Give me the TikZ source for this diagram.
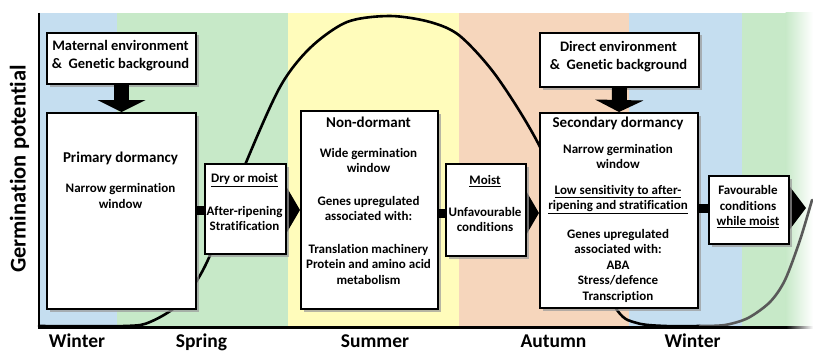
\documentclass[tikz,border=0pt]{standalone}
\usepackage{fontspec}
\setmainfont[Ligatures=NoCommon]{Carlito}
\usetikzlibrary{arrows.meta,shadows}
\definecolor{cblue}{RGB}{197,222,240}
\definecolor{cgreen}{RGB}{199,233,200}
\definecolor{cyellow}{RGB}{255,252,187}
\definecolor{corange}{RGB}{246,214,188}
\tikzset{
  box/.style={draw, line width=2pt, fill=white, inner sep=0pt, anchor=north west,
    drop shadow={shadow xshift=2.5pt, shadow yshift=-2.5pt, fill=black!40, opacity=0.7}},
  hd/.style={font=\fontsize{15}{18}\selectfont\bfseries, align=center, inner sep=0pt},
  hdb/.style={font=\fontsize{14.5}{18}\selectfont\bfseries, align=center, inner sep=0pt},
  tx/.style={font=\fontsize{13}{15.5}\selectfont\bfseries, align=center, inner sep=0pt},
  season/.style={font=\fontsize{19.5}{20}\selectfont\bfseries, anchor=base, inner sep=0pt},
  fatv/.style={line width=15pt, -{Triangle[width=48pt,length=12pt]}},
  fath/.style={line width=9pt, -{Triangle[width=54pt,length=16pt]}},
  faths/.style={line width=9pt, -{Triangle[width=44pt,length=17pt]}},
  curve/.style={line width=2.6pt, line cap=round, line join=round}
}
\begin{document}
\begin{tikzpicture}[x=1pt,y=-1pt]
\useasboundingbox (0,0) rectangle (813,353);
% season bands
\fill[cblue] (39,13) rectangle (117,326);
\fill[cgreen] (117,13) rectangle (288,326);
\fill[cyellow] (288,13) rectangle (459,326);
\fill[corange] (459,13) rectangle (629,326);
\fill[cblue] (629,13) rectangle (742,326);
\fill[cgreen] (742,13) rectangle (786,326);
\shade[left color=cgreen, right color=white] (785.5,13) rectangle (813,326);
% curve
\draw[curve] plot[smooth, tension=0.5] coordinates {(39,326) (125,326) (150,322) (180,303) (207,262) (245,165) (280,87) (310,48) (347,22) (390,16) (430,22) (460,36) (497,77) (540,147) (578,240) (617,310) (637,323) (665,326) (700,326)};
\draw[curve, black!65] plot[smooth, tension=0.5] coordinates {(700,326) (725,325) (748,318) (770,302) (785,280) (800,240) (812,200)};
% axes
\draw[line width=2.6pt] (39,13) -- (39,327.3) -- (786,327.3);
\shade[left color=black, right color=white] (786,326) rectangle (813,328.6);
% boxes
\node[box, minimum width=149pt, minimum height=51pt] (mat) at (46,32) {};
\node[box, minimum width=149pt, minimum height=196pt] (prim) at (46,112) {};
\node[box, minimum width=137pt, minimum height=198pt] (nond) at (300,110) {};
\node[box, minimum width=159pt, minimum height=54pt] (dir) at (539,32) {};
\node[box, minimum width=158pt, minimum height=195pt] (sec) at (539,112) {};
% arrows
\coordinate (pa) at (195,210);
\coordinate (na) at (437,213);
\coordinate (sa) at (697,208);
\coordinate (fend) at (806,208);
\draw[fatv] (mat.south) -- (prim.north);
\draw[fatv] (dir.south) -- (sec.north);
\draw[fath] (pa) -- (nond.west |- pa);
\draw[fath] (na) -- (sec.west |- na);
\draw[faths] (sa) -- (fend);
% condition boxes
\node[box, minimum width=81pt, minimum height=90pt] (dry) at (204,163) {};
\node[box, minimum width=80pt, minimum height=92pt] (moist) at (445,163) {};
\node[box, minimum width=80pt, minimum height=68pt] (fav) at (708,175) {};
% texts
\node[hdb] (matt) at (120.5,56) {Maternal environment\\\&~ Genetic background};
\node[hdb] (dirt) at (618.5,56.5) {Direct environment\\\&~ Genetic background};
\node[hd] (primt) at (120.5,158) {Primary dormancy};
\node[tx] (prims) at (120.5,196) {Narrow germination\\window};
\node[tx] (dryt) at (244.5,180) {\underline{Dry or moist}};
\node[tx] (drys) at (244.5,218.5) {After-ripening\\Stratification};
\node[hd] (nondt) at (368.5,122) {Non-dormant};
\node[tx] (nonda) at (368.5,160.5) {Wide germination\\window};
\node[tx] (nondb) at (368.5,208.5) {Genes upregulated\\associated with:};
\node[tx] (nondc) at (368.5,264) {Translation machinery\\Protein and amino acid\\metabolism};
\node[tx] (moistt) at (485,181) {\underline{Moist}};
\node[tx] (moists) at (485,219.5) {Unfavourable\\conditions};
\node[hd] (sect) at (618,123) {Secondary dormancy};
\node[tx] (seca) at (618,156.5) {Narrow germination\\window};
\node[tx] (secb) at (618,199.5) {\underline{Low sensitivity to after-}\\\underline{ripening and stratification}};
\node[tx] (secc) at (618,265.6) {Genes upregulated\\associated with:\\ABA\\Stress/defence\\Transcription};
\node[tx] (favt) at (748,206.5) {Favourable\\conditions\\\underline{while moist}};
% axis label and seasons
\node[rotate=90, font=\fontsize{22.5}{22}\selectfont\bfseries, inner sep=0pt] (ylab) at (19.5,169) {Germination potential};
\node[season] (w1) at (77,347.5) {Winter};
\node[season] (sp) at (201.5,347.5) {Spring};
\node[season] (su) at (375,347.5) {Summer};
\node[season] (au) at (553.5,347.5) {Autumn};
\node[season] (w2) at (692.5,347.5) {Winter};
\end{tikzpicture}
\end{document}
